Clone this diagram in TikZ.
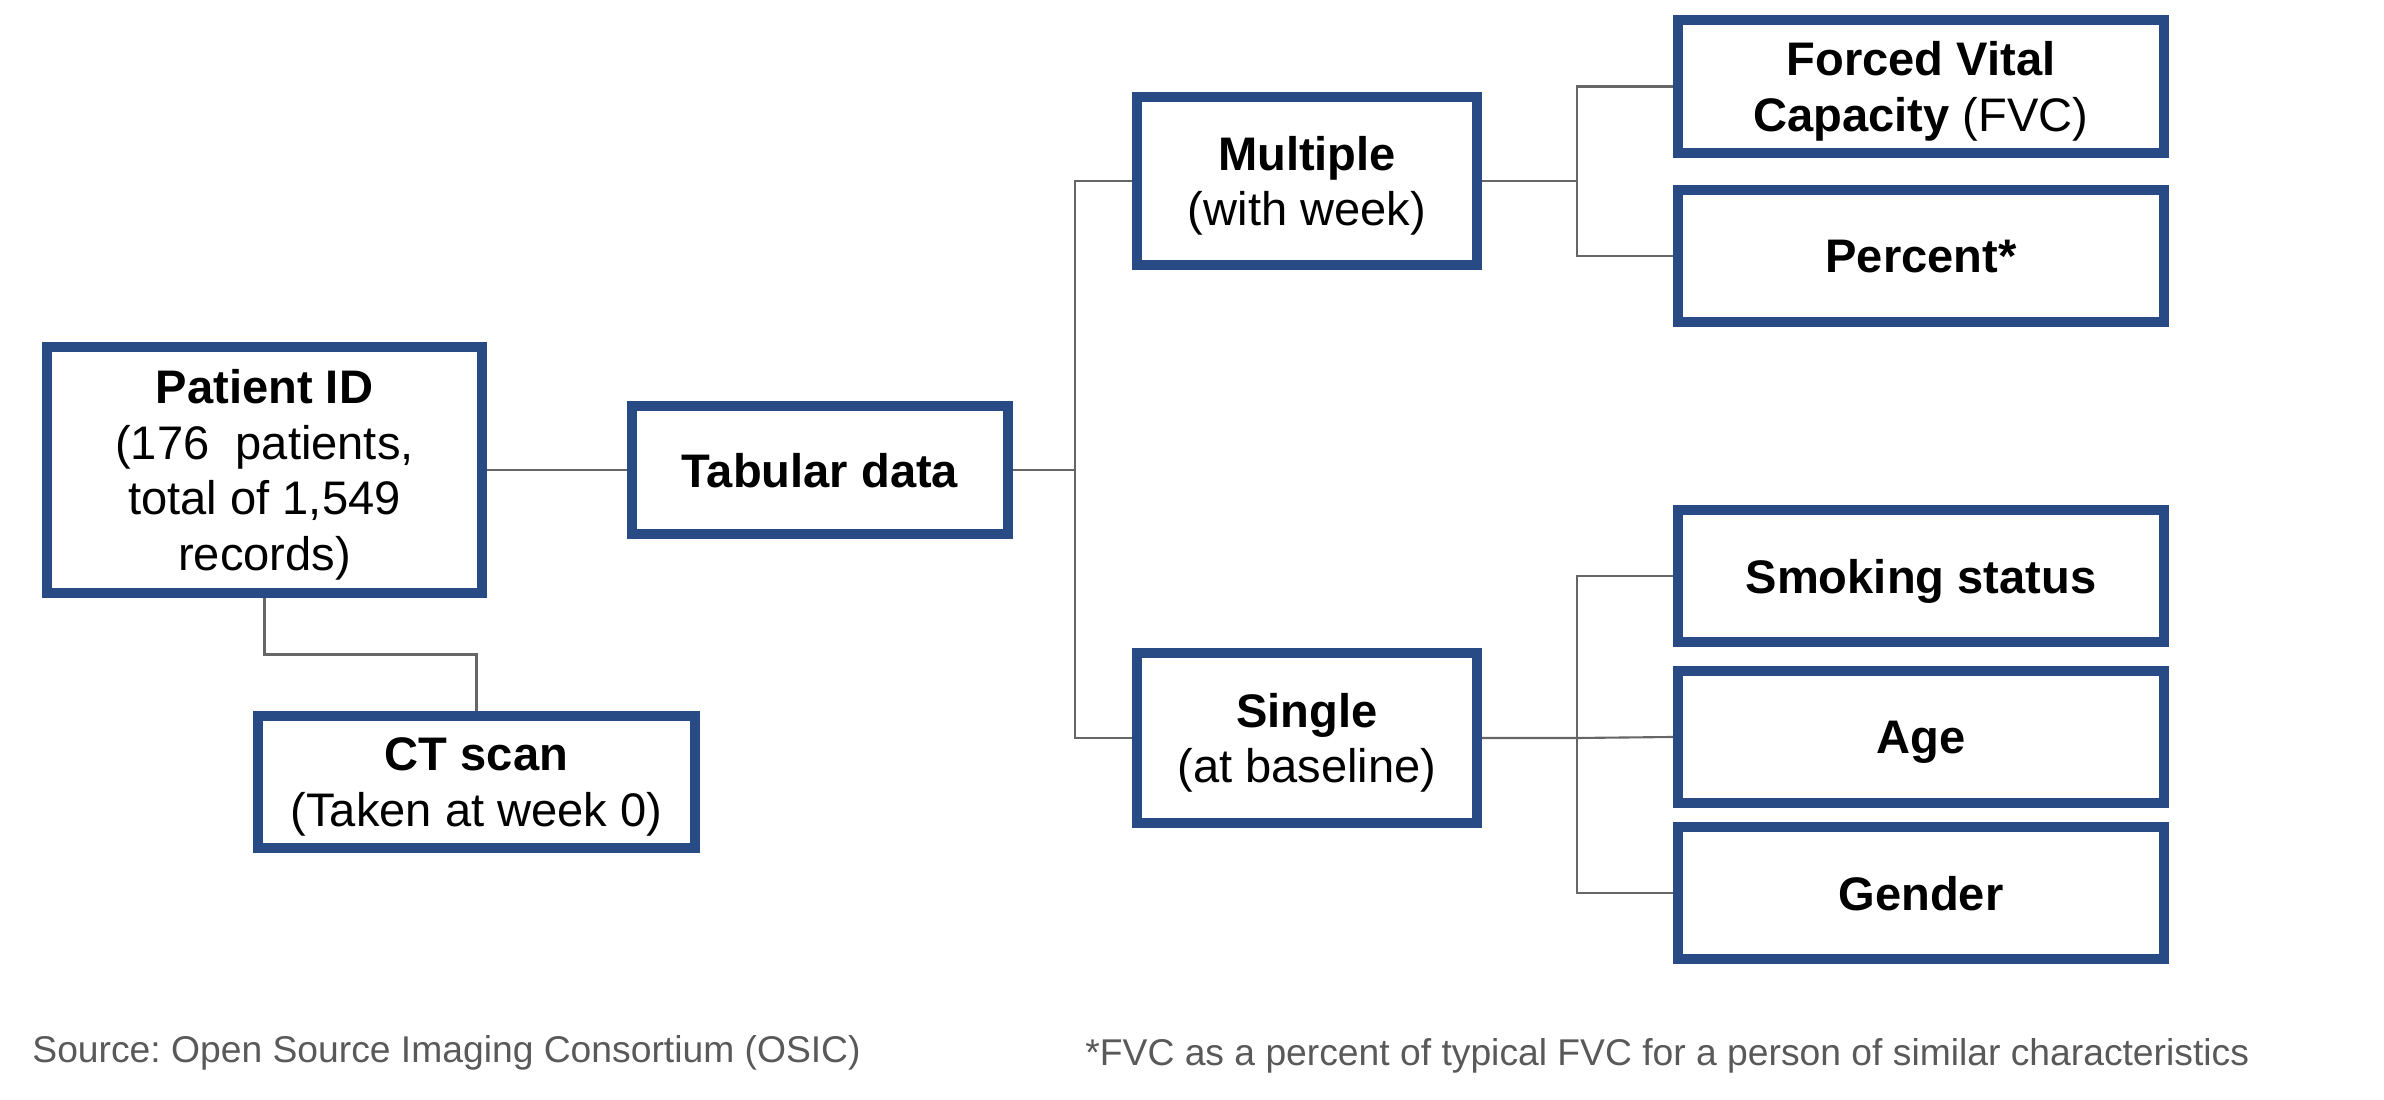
\documentclass[tikz,border=0pt]{standalone}
\usepackage{fontspec}
\setmainfont{Liberation Sans}
\frenchspacing
\usetikzlibrary{calc,positioning}
\definecolor{Navy}{HTML}{284A85}
\definecolor{Wire}{HTML}{666666}
\definecolor{Note}{HTML}{595959}

\begin{document}
\begin{tikzpicture}[x=1cm,y=1cm,
    box/.style={draw=Navy,line width=2.75pt,fill=white,align=center,
      font=\fontsize{13.4}{15.8}\selectfont,text depth=0pt,inner sep=2pt},
    wire/.style={draw=Wire,line width=0.6pt},
    note/.style={anchor=west,text=Note,font=\fontsize{10.6}{12}\selectfont}]
    \useasboundingbox (0,0) rectangle (23.84,11);
    % left part
    \node[box,minimum width=4.35cm,minimum height=2.46cm] (pat) at (2.645,6.30)
      {\textbf{Patient ID}\\(176\ \ patients,\\total of 1,549\\records)};
    \node[box,minimum width=3.76cm,minimum height=1.28cm] (tab) at (8.20,6.30)
      {\textbf{Tabular data}};
    \node[box,minimum width=4.37cm,minimum height=1.32cm] (ct) at (4.765,3.18)
      {\textbf{CT scan}\\(Taken at week 0)};
    % middle column
    \node[box,minimum width=3.40cm,minimum height=1.68cm] (mul) at (13.07,9.19)
      {\textbf{Multiple}\\(with week)};
    \node[box,minimum width=3.40cm,minimum height=1.70cm] (sgl) at (13.07,3.62)
      {\textbf{Single}\\(at baseline)};
    % right column
    \node[box,minimum width=4.86cm,minimum height=1.33cm] (fvc) at (19.21,10.135)
      {\textbf{Forced Vital}\\\textbf{Capacity} (FVC)};
    \node[box,minimum width=4.86cm,minimum height=1.32cm] (pct) at (19.21,8.44)
      {\textbf{Percent*}};
    \node[box,minimum width=4.86cm,minimum height=1.32cm] (smk) at (19.21,5.24)
      {\textbf{Smoking status}};
    \node[box,minimum width=4.86cm,minimum height=1.32cm] (age) at (19.21,3.63)
      {\textbf{Age}};
    \node[box,minimum width=4.86cm,minimum height=1.32cm] (gen) at (19.21,2.07)
      {\textbf{Gender}};
    % branch points
    \coordinate (split) at (10.75,6.30);
    \coordinate (forkA) at (15.77,9.19);
    \coordinate (forkB) at (15.77,3.62);
    % connectors
    \draw[wire] (pat.east) -- (tab.west);
    \draw[wire] (pat.south) |- ($(pat.south)!0.5!(ct.north)$) -| (ct.north);
    \draw[wire] (tab.east) -- (split);
    \draw[wire] (mul.west) -| (split) |- (sgl.west);
    \draw[wire] (mul.east) -- (forkA);
    \draw[wire] (fvc.west) -| (forkA) |- (pct.west);
    \draw[wire] (sgl.east) -- (forkB) -- (age.west);
    \draw[wire] (smk.west) -| (forkB) |- (gen.west);
    % footnotes
    \node[note] (src) at (0.20,0.47) {Source: Open Source Imaging Consortium (OSIC)};
    \node[note] (fn) at (10.73,0.44)
      {*FVC as a percent of typical FVC for a person of similar characteristics};
\end{tikzpicture}
\end{document}
